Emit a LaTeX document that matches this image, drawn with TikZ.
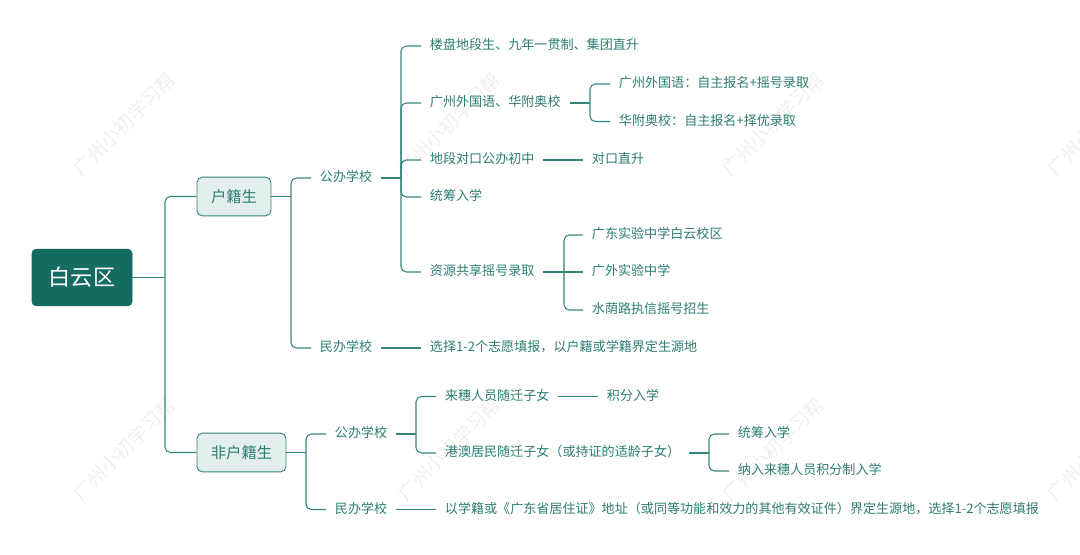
\documentclass[tikz,border=0pt]{standalone}
\usepackage{fontspec}
\setmainfont{Noto Sans CJK SC}
\usetikzlibrary{positioning}
\definecolor{deep}{HTML}{136B62}
\definecolor{pale}{HTML}{E2EFED}
\definecolor{wire}{HTML}{35857B}
\definecolor{ink}{HTML}{2C7D72}
\definecolor{faint}{HTML}{EFEFEF}
\tikzset{
rootbox/.style={
  fill=deep,
  draw=deep,
  rounded corners=3pt,
  text=white,
  font=\fontsize{16.6}{20}\selectfont,
  minimum width=75pt,
  minimum height=42.5pt
  },
groupbox/.style={
  fill=pale,
  draw=wire,
  line width=0.7pt,
  rounded corners=4pt,
  text=ink,
  font=\fontsize{11.5}{14}\selectfont,
  minimum height=29pt,
  inner xsep=0pt
  },
leaf/.style={
  anchor=west,
  text=ink,
  font=\fontsize{9.8}{12}\selectfont,
  inner xsep=6.5pt,
  inner ysep=0pt,
  text height=9pt,
  text depth=3.4pt
  },
line/.style={draw=wire, line width=0.8pt},
elbow/.style={draw=wire, line width=0.8pt, rounded corners=4pt},
stamp/.style={
  text=faint,
  rotate=45,
  font=\fontsize{14.5}{16}\selectfont
  }
}

\begin{document}
\begin{tikzpicture}[x=0.75pt,y=0.75pt,yscale=-1,xscale=1]
\useasboundingbox (0,0) rectangle (1080,555);

% watermark
\node [stamp] (markA) at (124,124) {广州小初学习帮};
\node [stamp] (markB) at (449,124) {广州小初学习帮};
\node [stamp] (markC) at (773,124) {广州小初学习帮};
\node [stamp] (markD) at (1098,124) {广州小初学习帮};
\node [stamp] (markE) at (124,449) {广州小初学习帮};
\node [stamp] (markF) at (449,449) {广州小初学习帮};
\node [stamp] (markG) at (773,449) {广州小初学习帮};
\node [stamp] (markH) at (1098,449) {广州小初学习帮};

% main boxes
\node [rootbox] (root) at (82,277.5) {白云区};
\node [groupbox, minimum width=55.5pt] (hukou) at (234,196.5) {户籍生};
\node [groupbox, minimum width=66.75pt] (nonhukou) at (241.5,452.5) {非户籍生};

% hukou side
\node [leaf] (pubA) at (311,178) {公办学校};
\node [leaf] (priA) at (311,348) {民办学校};
\node [leaf] (estate) at (421,46) {楼盘地段生、九年一贯制、集团直升};
\node [leaf] (foreign) at (421,103) {广州外国语、华附奥校};
\node [leaf] (gwy) at (610,84) {广州外国语：自主报名+摇号录取};
\node [leaf] (hfa) at (610,121.5) {华附奥校：自主报名+择优录取};
\node [leaf] (zone) at (421,160) {地段对口公办初中};
\node [leaf] (direct) at (583,160) {对口直升};
\node [leaf] (overall) at (421,197) {统筹入学};
\node [leaf] (share) at (421,272) {资源共享摇号录取};
\node [leaf] (baiyun) at (583,235) {广东实验中学白云校区};
\node [leaf] (gwsy) at (583,272) {广外实验中学};
\node [leaf] (shuiyin) at (583,310) {水荫路执信摇号招生};
\node [leaf] (choose) at (421,348) {选择1-2个志愿填报，以户籍或学籍界定生源地};

% non hukou side
\node [leaf] (pubB) at (326,434) {公办学校};
\node [leaf] (priB) at (326,509.5) {民办学校};
\node [leaf] (migrant) at (436,396.5) {来穗人员随迁子女};
\node [leaf] (points) at (598,396.5) {积分入学};
\node [leaf] (hkmo) at (436,453) {港澳居民随迁子女（或持证的适龄子女）};
\node [leaf] (overallB) at (729,434) {统筹入学};
\node [leaf] (pointsB) at (729,471) {纳入来穗人员积分制入学};
\node [leaf] (address) at (436,509.5) {以学籍或《广东省居住证》地址（或同等功能和效力的其他有效证件）界定生源地，选择1-2个志愿填报};

% branch points
\coordinate (hubRoot) at (165,277.5);
\coordinate (hubHukou) at (291,196.5);
\coordinate (hubPubA) at (401,178);
\coordinate (hubForeign) at (590,103);
\coordinate (hubShare) at (564,272);
\coordinate (hubNon) at (306,452.5);
\coordinate (hubPubB) at (416,434);
\coordinate (hubHkmo) at (709,453);

\draw [line] (root.east) -- (hubRoot);
\draw [elbow] (hubRoot) |- (hukou.west);
\draw [elbow] (hubRoot) |- (nonhukou.west);

\draw [line] (hukou.east) -- (hubHukou);
\draw [elbow] (hubHukou) |- (pubA.west);
\draw [elbow] (hubHukou) |- (priA.west);
\draw [line] (priA.east) -- (choose.west);

\draw [line] (pubA.east) -- (hubPubA);
\draw [elbow] (hubPubA) |- (estate.west);
\draw [elbow] (hubPubA) |- (foreign.west);
\draw [elbow] (hubPubA) |- (zone.west);
\draw [elbow] (hubPubA) |- (overall.west);
\draw [elbow] (hubPubA) |- (share.west);

\draw [line] (foreign.east) -- (hubForeign);
\draw [elbow] (hubForeign) |- (gwy.west);
\draw [elbow] (hubForeign) |- (hfa.west);
\draw [line] (zone.east) -- (direct.west);

\draw [line] (share.east) -- (gwsy.west);
\draw [elbow] (hubShare) |- (baiyun.west);
\draw [elbow] (hubShare) |- (shuiyin.west);

\draw [line] (nonhukou.east) -- (hubNon);
\draw [elbow] (hubNon) |- (pubB.west);
\draw [elbow] (hubNon) |- (priB.west);
\draw [line] (priB.east) -- (address.west);

\draw [line] (pubB.east) -- (hubPubB);
\draw [elbow] (hubPubB) |- (migrant.west);
\draw [elbow] (hubPubB) |- (hkmo.west);
\draw [line] (migrant.east) -- (points.west);

\draw [line] (hkmo.east) -- (hubHkmo);
\draw [elbow] (hubHkmo) |- (overallB.west);
\draw [elbow] (hubHkmo) |- (pointsB.west);

\end{tikzpicture}
\end{document}
